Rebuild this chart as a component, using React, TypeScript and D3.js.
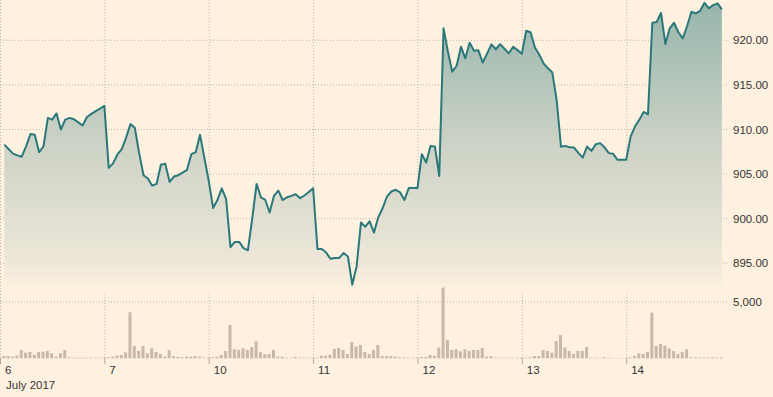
import React from "react";
import * as d3 from "d3";

// trading days shown on the axis
const days = ["6", "7", "10", "11", "12", "13", "14"];
const monthLabel = "July 2017";

// price per 15-min slot, one array per day
const price6 = [908.3, 907.8, 907.3, 907.1, 906.95, 908.1, 909.5, 909.4, 907.45, 908.1, 911.3, 911.1, 911.8, 910.0, 911.1, 911.3, 911.15, 910.8, 910.45, 911.4, 911.75, 912.05, 912.35, 912.65];
const price7 = [905.7, 906.2, 907.2, 907.8, 909.1, 910.6, 910.2, 907.35, 904.87, 904.5, 903.7, 903.9, 906.05, 906.15, 904.13, 904.73, 904.88, 905.17, 905.48, 907.23, 907.46, 909.4, 906.8, 904.25];
const price10 = [901.2, 902.1, 903.4, 902.2, 896.8, 897.4, 897.4, 896.7, 896.46, 900.0, 903.9, 902.4, 902.1, 900.7, 902.56, 903.15, 902.1, 902.4, 902.56, 902.75, 902.3, 902.6, 903.0, 903.4];
const price11 = [896.6, 896.6, 896.2, 895.5, 895.6, 895.6, 896.15, 895.77, 892.6, 894.65, 899.57, 899.1, 899.7, 898.45, 900.18, 901.2, 902.5, 903.05, 903.24, 902.94, 902.1, 903.43, 903.43, 903.43];
const price12 = [907.23, 906.3, 908.16, 908.1, 904.8, 921.34, 918.72, 916.48, 917.15, 919.28, 917.98, 919.73, 918.84, 918.88, 917.5, 918.5, 919.55, 919.0, 919.56, 919.05, 918.54, 919.28, 918.9, 918.5];
const price13 = [921.07, 920.9, 919.2, 918.4, 917.4, 916.86, 916.4, 913.3, 908.08, 908.16, 908.0, 907.97, 907.38, 906.85, 908.08, 907.6, 908.35, 908.47, 908.0, 907.35, 907.27, 906.6, 906.6, 906.6];
const price14 = [909.2, 910.33, 911.08, 911.97, 911.7, 921.97, 922.05, 923.06, 919.59, 921.34, 921.97, 920.9, 920.22, 921.6, 923.2, 923.02, 923.31, 924.2, 923.58, 923.95, 924.14, 923.47];

// volume per slot
const vol6 = [200, 200, 150, 250, 740, 500, 560, 300, 560, 590, 650, 440, 150, 440, 740, 90, 60, 60, 60, 60, 60, 60, 60, 60];
const vol7 = [90, 150, 250, 300, 530, 4090, 1100, 650, 1100, 440, 890, 560, 380, 150, 710, 200, 120, 90, 150, 150, 200, 150, 60, 60];
const vol10 = [90, 150, 300, 650, 2960, 800, 740, 890, 740, 1000, 1520, 530, 360, 380, 740, 150, 150, 60, 60, 120, 60, 60, 60, 60];
const vol11 = [60, 240, 240, 330, 830, 920, 740, 380, 1450, 1040, 1180, 560, 380, 740, 1180, 200, 200, 200, 150, 90, 90, 60, 60, 60];
const vol12 = [120, 120, 300, 240, 950, 6280, 1630, 740, 800, 620, 800, 650, 740, 740, 920, 150, 200, 60, 60, 60, 60, 60, 60, 60];
const vol13 = [60, 90, 200, 200, 740, 650, 500, 1540, 2070, 950, 650, 380, 650, 650, 1000, 60, 60, 30, 90, 60, 30, 30, 30, 30];
const vol14 = [90, 200, 440, 380, 560, 4050, 1100, 1270, 1120, 890, 650, 380, 560, 800, 90, 90, 60, 90, 60, 90, 60, 90];

const priceTicks = [895, 900, 905, 910, 915, 920];
const volumeTicks = [5000];

const W = 773;
const H = 397;
const SLOTS = 24;
const BG = "#fff1e0";

const priceDays = [price6, price7, price10, price11, price12, price13, price14];
const volDays = [vol6, vol7, vol10, vol11, vol12, vol13, vol14];

type Pt = { i: number; v: number };

export default function App() {
  const x = d3.scaleLinear().domain([0, days.length * SLOTS]).range([0, 730.6]);
  const y = d3.scaleLinear().domain([895, 920]).range([263.3, 40.3]);
  const yv = d3.scaleLinear().domain([0, 5000]).range([358.3, 302]);

  const pts: Pt[] = [];
  priceDays.forEach((arr, d) => arr.forEach((v, k) => pts.push({ i: d * SLOTS + k + 1, v })));
  const bars: Pt[] = [];
  volDays.forEach((arr, d) => arr.forEach((v, k) => bars.push({ i: d * SLOTS + k + 1, v })));

  const line = d3.line<Pt>().x(d => x(d.i)).y(d => y(d.v));
  const area = d3.area<Pt>().x(d => x(d.i)).y0(292).y1(d => y(d.v));

  const gridRight = 728;
  const font = "Arial, 'Liberation Sans', sans-serif";

  return (
    <svg width={W} height={H} style={{ display: "block", position: "absolute", left: 0, top: 0 }}>
      <style>{`body{margin:0}`}</style>
      <defs>
        <linearGradient id="fillGrad" gradientUnits="userSpaceOnUse" x1="0" y1="0" x2="0" y2="292">
          <stop offset="0" stopColor="#96b5ac" />
          <stop offset="0.5" stopColor="#cdd3c6" />
          <stop offset="0.88" stopColor="#ebe6d8" />
          <stop offset="1" stopColor={BG} />
        </linearGradient>
      </defs>
      <rect width={W} height={H} fill={BG} />

      {/* horizontal grid */}
      {priceTicks.map(t => (
        <line key={"p" + t} x1={0} x2={gridRight} y1={y(t)} y2={y(t)} stroke="#bcb3a8" strokeDasharray="1,2" />
      ))}
      {volumeTicks.map(t => (
        <line key={"v" + t} x1={0} x2={gridRight} y1={yv(t)} y2={yv(t)} stroke="#bcb3a8" strokeDasharray="1,2" />
      ))}
      {/* vertical grid per day */}
      {days.map((d, j) => (
        <g key={"d" + d}>
          <line x1={x(j * SLOTS) + 0.5} x2={x(j * SLOTS) + 0.5} y1={0} y2={358} stroke="#bcb3a8" strokeDasharray="1,2" />
          <line x1={x(j * SLOTS) + 0.5} x2={x(j * SLOTS) + 0.5} y1={358} y2={364} stroke="#b0a79c" />
          <text x={x(j * SLOTS) + 5} y={373.5} fontSize={11.5} fontFamily={font} fill="#333">{d}</text>
        </g>
      ))}
      <text x={6} y={388.5} fontSize={11.5} fontFamily={font} fill="#333">{monthLabel}</text>

      <path d={area(pts) || ""} fill="url(#fillGrad)" />
      <path d={line(pts) || ""} fill="none" stroke="#2a7879" strokeWidth={2} strokeLinejoin="round" />

      {bars.map((b, j) => (
        <rect key={"b" + j} x={x(b.i) - 2} width={3} y={yv(b.v)} height={yv(0) - yv(b.v)} fill="#c9b8a6" />
      ))}

      {priceTicks.map(t => (
        <text key={"pl" + t} x={733} y={y(t)} dy="0.35em" fontSize={11.5} fontFamily={font} fill="#333">{t.toFixed(2)}</text>
      ))}
      {volumeTicks.map(t => (
        <text key={"vl" + t} x={733} y={yv(t)} dy="0.35em" fontSize={11.5} fontFamily={font} fill="#333">{d3.format(",")(t)}</text>
      ))}
    </svg>
  );
}
